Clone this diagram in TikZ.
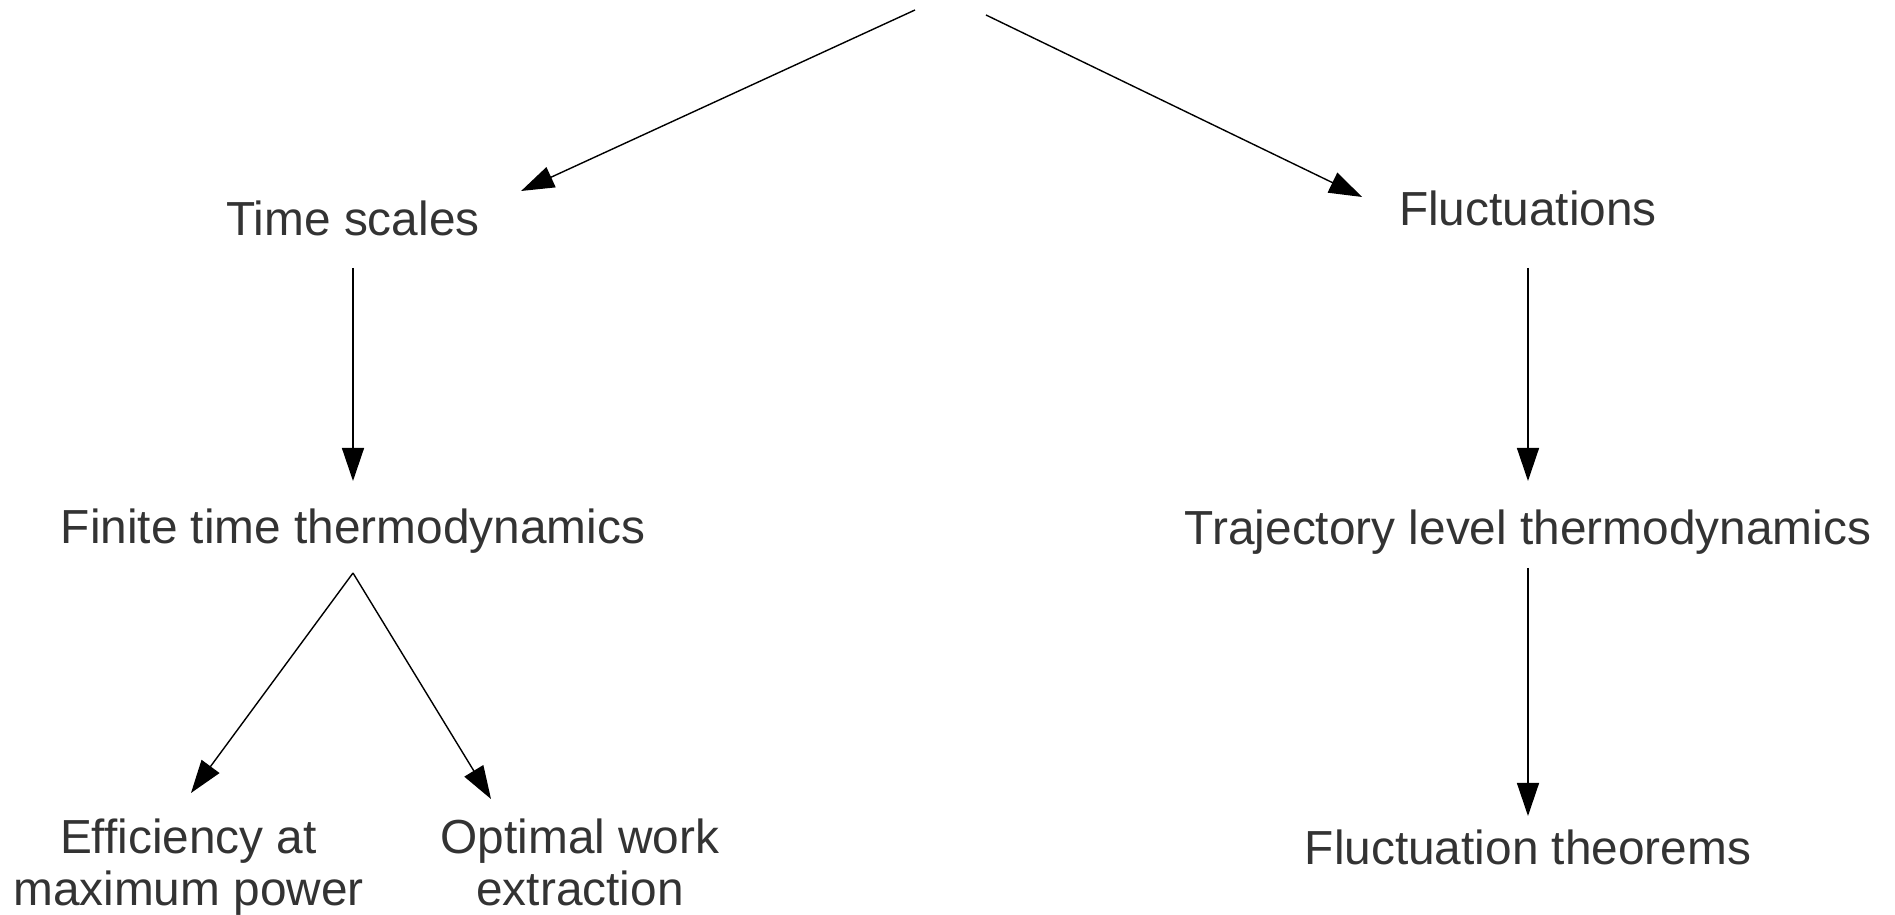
\documentclass[tikz,border=0pt]{standalone}
\usepackage{fontspec}
\setmainfont{Liberation Sans}
\usepackage{tikz}
\usetikzlibrary{arrows.meta}
\definecolor{txtgray}{HTML}{333333}

\begin{document}
\begin{tikzpicture}[
    topic/.style={font=\fontsize{13.6pt}{14.8pt}\selectfont,text=txtgray,inner sep=0pt,outer sep=0pt},
    oneline/.style={topic,anchor=base,text height=0.36cm,text depth=0.1cm},
    twoline/.style={topic,anchor=north,align=center},
    link/.style={line width=0.4pt,-{Triangle[length=0.33cm,width=0.22cm]}}]
        \useasboundingbox (0,0) rectangle (18.95,9.15);
        \coordinate (rootl) at (9.15,9.05);
        \coordinate (rootr) at (9.86,9.00);
        \node[oneline] (ts) at (3.53,6.79) {Time scales};
        \node[oneline] (fl) at (15.28,6.89) {Fluctuations};
        \node[oneline] (ftt) at (3.53,3.71) {Finite time thermodynamics};
        \node[oneline] (traj) at (15.28,3.70) {Trajectory level thermodynamics};
        \node[oneline] (fth) at (15.28,0.50) {Fluctuation theorems};
        \node[twoline] (eff) at (1.885,0.96) {Efficiency at\\maximum power};
        \node[twoline] (opt) at (5.80,0.96) {Optimal work\\extraction};
        \draw[link] (rootl) -- ([shift={(0.415,0.09)}]ts.north east);
        \draw[link] (rootr) -- ([shift={(-0.37,-0.07)}]fl.north west);
        \draw[link,shorten <=0.22cm,shorten >=0.27cm] (ts.south) -- (ftt.north);
        \draw[link,shorten <=0.32cm,shorten >=0.28cm] (fl.south) -- (traj.north);
        \draw[link,shorten <=0.13cm,shorten >=0.13cm] (traj.south) -- (fth.north);
        \draw[link] ([yshift=-0.19cm]ftt.south) -- ([shift={(0.025,0.26)}]eff.north);
        \draw[link] ([yshift=-0.19cm]ftt.south) -- ([shift={(-0.89,0.20)}]opt.north);
    \end{tikzpicture}
\end{document}
